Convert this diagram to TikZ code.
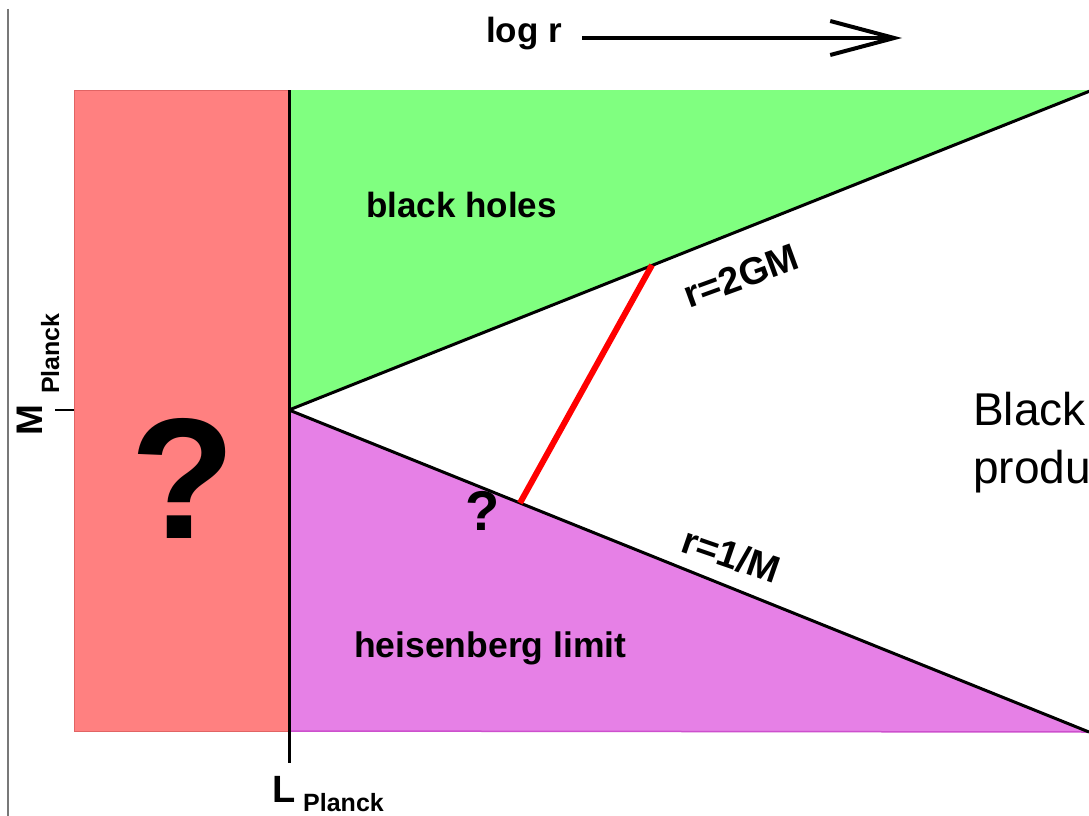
\documentclass[tikz,border=0pt]{standalone}
\usepackage{fontspec}
\setmainfont{Liberation Sans}
\usetikzlibrary{arrows.meta}
\definecolor{redreg}{RGB}{255,128,128}
\definecolor{rededge}{RGB}{225,100,100}
\definecolor{greenreg}{RGB}{128,255,128}
\definecolor{magreg}{RGB}{230,128,230}
\definecolor{magedge}{RGB}{205,80,205}
\definecolor{framegray}{RGB}{120,120,120}
\begin{document}
\begin{tikzpicture}[x=1pt,y=-1pt,
  bold/.style={font=\bfseries\fontsize{#1}{#1}\selectfont, inner sep=0pt, text=black},
  plain/.style={font=\fontsize{#1}{#1}\selectfont, inner sep=0pt, text=black},
  boundary/.style={line width=3pt, black},
  linkline/.style={line width=6pt, red},
  axisarrow/.style={line width=4pt, -{Straight Barb[length=64pt,width=34pt]}}]
\useasboundingbox (0,0) rectangle (1089,816);
\fill[white] (0,0) rectangle (1089,816);
% coordinates
\coordinate (rTL) at (74,90);
\coordinate (rBR) at (289,731);
\coordinate (apex) at (289,410);
\coordinate (gTop) at (289,90);
\coordinate (gTR) at (1095,90);
\coordinate (gEnd) at (1095,89);
\coordinate (mEnd) at (1089,732);
\coordinate (mBL) at (289,731);
\coordinate (vBot) at (289,763);
\coordinate (tickL) at (55,410);
\coordinate (tickR) at (74,410);
\coordinate (redA) at (520,503);
\coordinate (redB) at (652,265);
\coordinate (arrS) at (582,38);
\coordinate (arrE) at (902,38);
% frame line
\draw[framegray, line width=1.5pt] (8,9) -- (8,816);
% regions
\filldraw[fill=redreg, draw=rededge, line width=1pt] (rTL) rectangle (rBR);
\fill[greenreg] (gTop) -- (gTR) -- (gEnd) -- (apex) -- cycle;
\fill[magreg] (apex) -- (mEnd) -- (mBL) -- cycle;
\draw[magedge, line width=1.5pt] (mBL) -- (mEnd);
% boundaries
\draw[boundary] (apex) -- (gEnd);
\draw[boundary] (apex) -- (mEnd);
\draw[boundary] (gTop) -- (vBot);
\draw[line width=2pt] (tickL) -- (tickR);
% red line
\draw[linkline] (redA) -- (redB);
% arrow
\draw[axisarrow] (arrS) -- (arrE);
% labels
\node[bold=35, anchor=base west] (logr) at (486,43) {log r};
\node[bold=35, anchor=base west] (bh) at (366,217) {black holes};
\node[bold=35.5, anchor=base west] (hl) at (354,657) {heisenberg limit};
\node[bold=38, rotate=20] (r2gm) at (741,276) {r=2GM};
\node[bold=38, rotate=-19] (r1m) at (731,555) {r=1/M};
\node[bold=172, anchor=base] (bigq) at (183,538) {?};
\node[bold=56, anchor=base] (smallq) at (483,530) {?};
\node[bold=38, anchor=base west] (Lsym) at (272,802) {L};
\node[bold=25, anchor=base west] (Lsub) at (303,811) {Planck};
\node[bold=37, anchor=base west, rotate=90] (Msym) at (42,436) {M};
\node[bold=25, anchor=base west, rotate=90] (Msub) at (59,394) {Planck};
\node[plain=46, anchor=base west] (black) at (973,425) {Black};
\node[plain=46, anchor=base west] (produ) at (973,483) {produ};
\end{tikzpicture}
\end{document}
